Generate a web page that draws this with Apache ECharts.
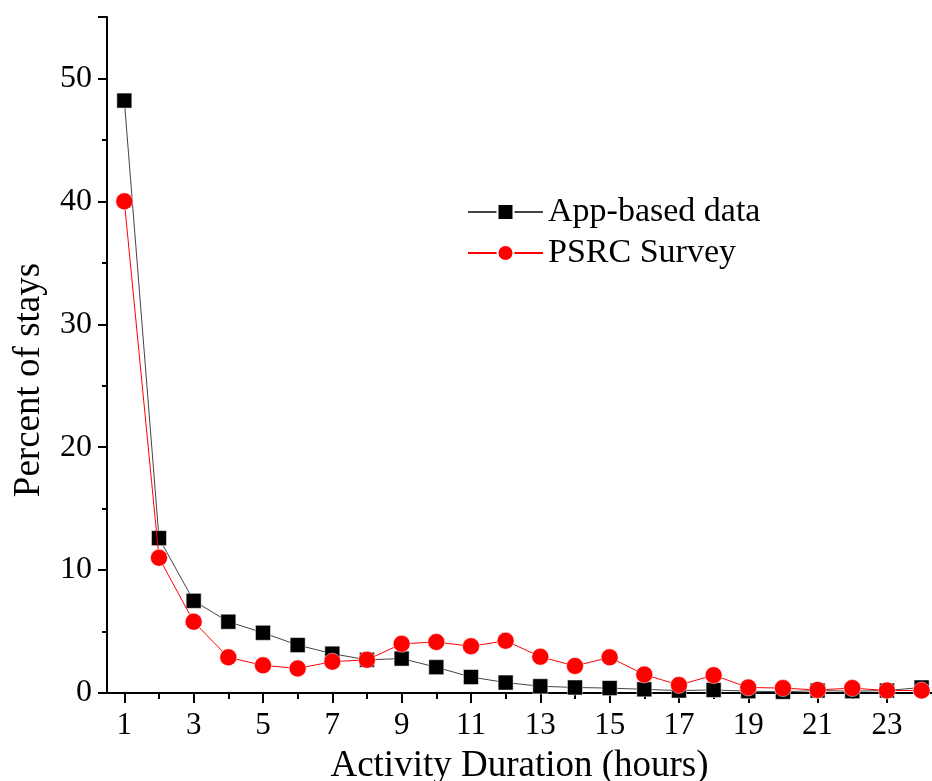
<!DOCTYPE html>
<html>
<head>
<meta charset="utf-8">
<script src="https://cdn.jsdelivr.net/npm/echarts@6/dist/echarts.min.js"></script>
<style>
  html, body { margin: 0; padding: 0; background: #fff; }
  #chart { width: 932px; height: 781px; }
</style>
</head>
<body>
<div id="chart"></div>
<script>
// hours 1..24
var hours = [1,2,3,4,5,6,7,8,9,10,11,12,13,14,15,16,17,18,19,20,21,22,23,24];
var appData = [48.2,12.6,7.5,5.8,4.9,3.9,3.2,2.7,2.8,2.1,1.3,0.85,0.55,0.45,0.4,0.3,0.2,0.25,0.15,0.1,0.2,0.15,0.2,0.45];
var psrcData = [40.0,11.0,5.8,2.9,2.25,2.0,2.55,2.7,4.0,4.15,3.8,4.25,2.95,2.2,2.9,1.5,0.65,1.45,0.45,0.4,0.25,0.4,0.2,0.2];
var xMajorTicks = [1,3,5,7,9,11,13,15,17,19,21,23];
var xMinorTicks = [2,4,6,8,10,12,14,16,18,20,22,24];

var font = 'Liberation Serif';

function pairs(vals) {
  return hours.map(function (h, i) { return [h, vals[i]]; });
}

var chart = echarts.init(document.getElementById('chart'));
var option = {
  animation: false,
  grid: { left: 107, right: 0, top: 17, bottom: 88, outerBoundsMode: 'none', containLabel: false },
  legend: {
    left: 462, top: 190,
    orient: 'vertical',
    itemWidth: 75, itemHeight: 20, itemGap: 7,
    textStyle: { fontFamily: font, fontSize: 34, color: '#000' },
    data: ['App-based data', 'PSRC Survey']
  },
  xAxis: [{
    type: 'value', min: 0.5, max: 24.3,
    name: 'Activity Duration (hours)',
    nameLocation: 'middle', nameGap: 55,
    nameTextStyle: { fontFamily: font, fontSize: 37, color: '#000' },
    axisLine: { onZero: false, lineStyle: { color: '#000', width: 2 } },
    axisTick: { customValues: xMajorTicks, length: 10, lineStyle: { color: '#000', width: 2 } },
    axisLabel: { customValues: xMajorTicks, fontFamily: font, fontSize: 31, color: '#000', margin: 17 },
    splitLine: { show: false }
  }, {
    type: 'value', min: 0.5, max: 24.3, position: 'bottom',
    axisLine: { show: false },
    axisTick: { customValues: xMinorTicks, length: 6, lineStyle: { color: '#000', width: 2 } },
    axisLabel: { show: false },
    splitLine: { show: false }
  }],
  yAxis: {
    type: 'value', min: 0, max: 55, interval: 10,
    name: 'Percent of stays',
    nameLocation: 'middle', nameGap: 59,
    nameTextStyle: { fontFamily: font, fontSize: 37, color: '#000', padding: [0, 50, 0, 0] },
    axisLine: { show: true, lineStyle: { color: '#000', width: 2 } },
    axisTick: { show: true, inside: false, length: 9, lineStyle: { color: '#000', width: 2 } },
    minorTick: { show: true, splitNumber: 2, length: 5, lineStyle: { color: '#000', width: 2 } },
    axisLabel: { fontFamily: font, fontSize: 32, color: '#000', margin: 15, showMaxLabel: false },
    splitLine: { show: false }
  },
  series: [{
    name: 'App-based data',
    type: 'line',
    data: pairs(appData),
    symbol: 'rect', symbolSize: 15,
    itemStyle: { color: '#000', borderColor: '#fff', borderWidth: 0.5 },
    lineStyle: { color: '#444', width: 1 },
    z: 2
  }, {
    name: 'PSRC Survey',
    type: 'line',
    data: pairs(psrcData),
    symbol: 'circle', symbolSize: 17,
    itemStyle: { color: '#ff0000', borderColor: '#fff', borderWidth: 0.5 },
    lineStyle: { color: '#ff0000', width: 1 },
    z: 3
  }]
};
chart.setOption(option);
</script>
</body>
</html>
